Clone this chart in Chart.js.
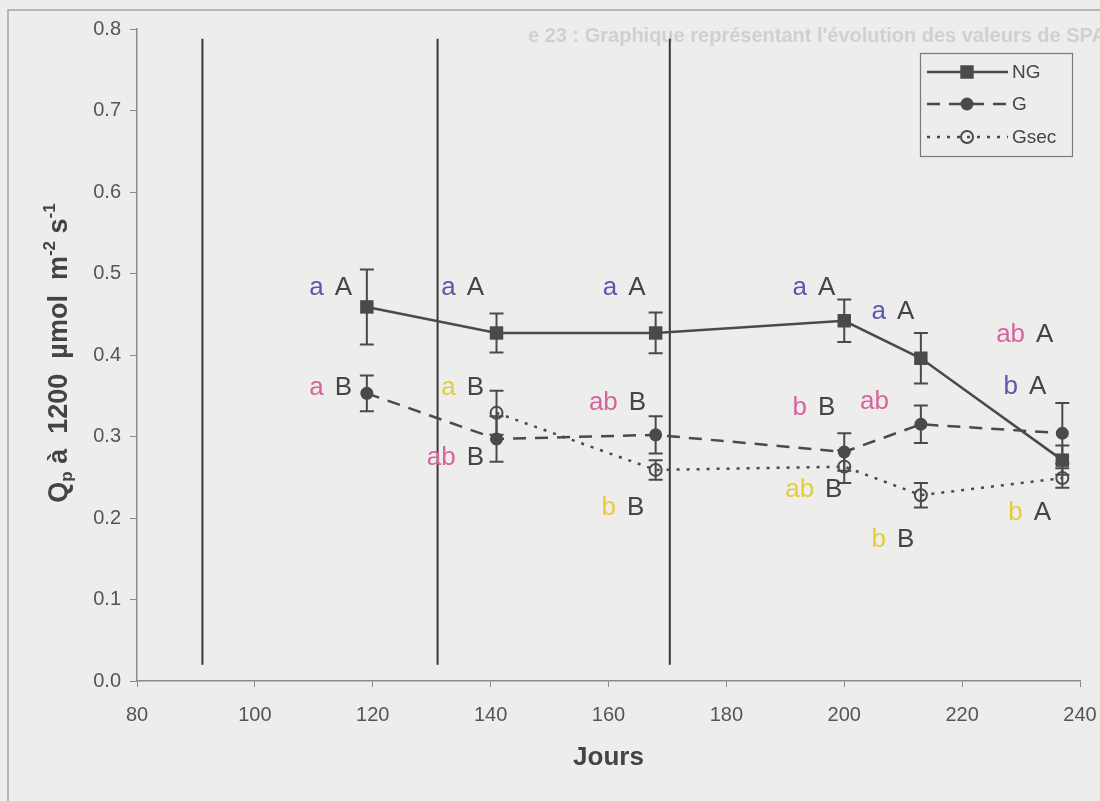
<!DOCTYPE html>
<html><head><meta charset="utf-8">
<script src="https://cdn.jsdelivr.net/npm/chart.js@4.4.1/dist/chart.umd.min.js"></script>
<style>html,body{margin:0;padding:0;background:#ededeb;overflow:hidden}</style>
</head><body>
<canvas id="c" width="1100" height="801"></canvas>
<script>
// ---- data ----
const daysAll  = [119, 141, 168, 200, 213, 237];
const daysGsec = [141, 168, 200, 213, 237];
const ngValues   = [0.459, 0.427, 0.427, 0.442, 0.396, 0.271];
const ngErrors   = [0.046, 0.024, 0.025, 0.026, 0.031, 0.018];
const gValues    = [0.353, 0.297, 0.302, 0.281, 0.315, 0.304];
const gErrors    = [0.022, 0.028, 0.023, 0.023, 0.023, 0.037];
const gsecValues = [0.329, 0.259, 0.263, 0.228, 0.249];
const gsecErrors = [0.027, 0.012, 0.020, 0.015, 0.012];
const seriesNames = ['NG', 'G', 'Gsec'];
const xTickValues = [80, 100, 120, 140, 160, 180, 200, 220, 240];
const yTickValues = [0, 0.1, 0.2, 0.3, 0.4, 0.5, 0.6, 0.7, 0.8];
const separatorDays = [91.1, 131.0, 170.4];
const separatorRange = [0.02, 0.788];
// significance letters: [day, value, lowercase, lowercase group, uppercase]
const letterDays   = [112.7, 112.7, 135.1, 135.1, 135.1, 162.5, 162.6, 162.3, 194.7, 208.1, 231.7, 230.5, 194.7, 208.6, 195.9, 208.1, 231.3];
const letterValues = [0.482, 0.360, 0.483, 0.360, 0.274, 0.483, 0.341, 0.212, 0.483, 0.453, 0.425, 0.361, 0.335, 0.342, 0.234, 0.173, 0.206];
const letterLower  = ['a','a','a','a','ab','a','ab','b','a','a','ab','b','b','ab','ab','b','b'];
const letterGroup  = ['NG','G','NG','Gsec','G','NG','G','Gsec','NG','NG','G','NG','G','G','Gsec','Gsec','Gsec'];
const letterUpper  = ['A','B','A','B','B','A','B','B','A','A','A','A','B','','B','B','A'];
const ghostTitle = "e 23 : Graphique représentant l'évolution des valeurs de SPAD en fonction du temps";

// ---- styles ----
const INK = '#4a4a4a';
const GROUP_COLORS = {NG: '#5858b0', G: '#d8649e', Gsec: '#e6cc3c'};
const FONT = '"Liberation Sans", Arial, sans-serif';

const pts = (xs, ys) => xs.map((x, i) => ({x, y: ys[i]}));

const datasets = [
  {label: seriesNames[0], data: pts(daysAll, ngValues), errors: ngErrors,
   borderColor: INK, backgroundColor: INK, borderWidth: 2.5, pointStyle: 'rect', pointRadius: 9.5,
   pointBorderWidth: 0, tension: 0},
  {label: seriesNames[1], data: pts(daysAll, gValues), errors: gErrors,
   borderColor: INK, backgroundColor: INK, borderWidth: 2.5, borderDash: [13, 9], pointStyle: 'circle',
   pointRadius: 6.5, pointBorderWidth: 0, tension: 0},
  {label: seriesNames[2], data: pts(daysGsec, gsecValues), errors: gsecErrors,
   borderColor: INK, backgroundColor: 'rgba(0,0,0,0)', borderWidth: 2.5, borderDash: [3, 7], pointStyle: 'circle',
   pointRadius: 6, pointBorderWidth: 2, pointBorderColor: INK, pointBackgroundColor: 'rgba(0,0,0,0)', tension: 0}
];
separatorDays.forEach(d => datasets.push({
  label: '', separator: true,
  data: [{x: d, y: separatorRange[1]}, {x: d, y: separatorRange[0]}],
  borderColor: '#383838', borderWidth: 2, pointRadius: 0
}));

const pagePlugin = {
  id: 'page',
  beforeDraw(chart) {
    const ctx = chart.ctx;
    ctx.save();
    ctx.fillStyle = '#ededeb';
    ctx.fillRect(0, 0, chart.width, chart.height);
    ctx.strokeStyle = '#a4a4a4';
    ctx.lineWidth = 1.5;
    ctx.beginPath();
    ctx.moveTo(8, 801); ctx.lineTo(8, 10); ctx.lineTo(1100, 10);
    ctx.stroke();
    // faint show-through text from the other side of the page
    ctx.fillStyle = '#d0d0ce';
    ctx.font = 'bold 20px ' + FONT;
    ctx.textBaseline = 'middle';
    ctx.textAlign = 'left';
    ctx.fillText(ghostTitle, 528, 36);
    ctx.restore();
  }
};

const errorBarPlugin = {
  id: 'errbars',
  beforeDatasetsDraw(chart) {
    const {ctx, scales: {x, y}} = chart;
    chart.data.datasets.forEach(ds => {
      if (!ds.errors) return;
      ctx.save();
      ctx.strokeStyle = INK; ctx.lineWidth = 2; ctx.setLineDash([]);
      ds.data.forEach((p, j) => {
        const e = ds.errors[j];
        const px = x.getPixelForValue(p.x);
        const t = y.getPixelForValue(p.y + e), b = y.getPixelForValue(p.y - e);
        ctx.beginPath();
        ctx.moveTo(px, t); ctx.lineTo(px, b);
        ctx.moveTo(px - 7, t); ctx.lineTo(px + 7, t);
        ctx.moveTo(px - 7, b); ctx.lineTo(px + 7, b);
        ctx.stroke();
      });
      ctx.restore();
    });
  }
};

function drawMarker(ctx, ds, cx, cy) {
  ctx.save();
  ctx.setLineDash([]);
  if (ds.pointStyle === 'rect') {
    const s = Math.SQRT1_2 * ds.pointRadius;
    ctx.fillStyle = INK; ctx.fillRect(cx - s, cy - s, 2 * s, 2 * s);
  } else {
    ctx.beginPath(); ctx.arc(cx, cy, ds.pointRadius, 0, Math.PI * 2);
    if (ds.pointBorderWidth) { ctx.lineWidth = ds.pointBorderWidth; ctx.strokeStyle = INK; ctx.stroke(); }
    else { ctx.fillStyle = INK; ctx.fill(); }
  }
  ctx.restore();
}

const overlayPlugin = {
  id: 'overlay',
  afterDraw(chart) {
    const {ctx, scales: {x, y}} = chart;
    ctx.save();
    // significance letters
    ctx.font = '26px ' + FONT;
    ctx.textBaseline = 'middle';
    letterDays.forEach((d, i) => {
      const px = x.getPixelForValue(d), py = y.getPixelForValue(letterValues[i]);
      ctx.fillStyle = GROUP_COLORS[letterGroup[i]];
      ctx.textAlign = 'right';
      ctx.fillText(letterLower[i], px - 6, py);
      if (letterUpper[i]) {
        ctx.fillStyle = '#454545';
        ctx.textAlign = 'left';
        ctx.fillText(letterUpper[i], px + 5, py);
      }
    });
    // legend
    ctx.strokeStyle = '#7a7a7a'; ctx.lineWidth = 1.2; ctx.setLineDash([]);
    ctx.strokeRect(920.5, 53.5, 152, 103);
    const rows = [72, 104, 137];
    ctx.font = '19px ' + FONT; ctx.textAlign = 'left';
    chart.data.datasets.slice(0, 3).forEach((ds, i) => {
      const ly = rows[i];
      ctx.save();
      ctx.strokeStyle = INK; ctx.lineWidth = 2.5;
      ctx.setLineDash(ds.borderDash || []);
      ctx.beginPath(); ctx.moveTo(927, ly); ctx.lineTo(1008, ly); ctx.stroke();
      ctx.restore();
      drawMarker(ctx, ds, 967, ly);
      ctx.fillStyle = '#454545';
      ctx.fillText(ds.label, 1012, ly + 1);
    });
    // x title
    ctx.fillStyle = '#444';
    ctx.font = 'bold 26px ' + FONT;
    ctx.textAlign = 'center';
    ctx.fillText('Jours', (x.left + x.right) / 2, 758);
    // y title with sub/superscripts
    const segs = [['Q', 'n'], ['p', 'sub'], [' à  1200  µmol  m', 'n'], ['-2', 'sup'], [' s', 'n'], ['-1', 'sup']];
    const fN = 'bold 27px ' + FONT, fS = 'bold 17px ' + FONT;
    let total = 0;
    segs.forEach(s => { ctx.font = s[1] === 'n' ? fN : fS; total += ctx.measureText(s[0]).width; });
    ctx.translate(57, 353);
    ctx.rotate(-Math.PI / 2);
    ctx.textAlign = 'left'; ctx.textBaseline = 'alphabetic';
    let cx = -total / 2;
    segs.forEach(s => {
      ctx.font = s[1] === 'n' ? fN : fS;
      const off = s[1] === 'sub' ? 15 : (s[1] === 'sup' ? -2 : 10);
      ctx.fillText(s[0], cx, off);
      cx += ctx.measureText(s[0]).width;
    });
    ctx.restore();
  }
};

new Chart(document.getElementById('c'), {
  type: 'line',
  data: {datasets},
  options: {
    responsive: false, animation: false, devicePixelRatio: 1,
    layout: {padding: {left: 0, right: 20, top: 29, bottom: 0}},
    plugins: {legend: {display: false}, tooltip: {enabled: false}},
    scales: {
      x: {
        type: 'linear', min: 80, max: 240,
        afterBuildTicks(s) { s.ticks = xTickValues.map(v => ({value: v})); },
        afterFit(s) { s.height = 120; s.paddingRight = 0; s.paddingLeft = 0; },
        grid: {drawOnChartArea: false, drawTicks: true, tickLength: 6, color: '#8a8a8a', lineWidth: 1},
        border: {display: true, color: '#8a8a8a', width: 1.5},
        ticks: {color: '#555', font: {size: 20, family: FONT}, padding: 16, maxRotation: 0, autoSkip: false,
                callback: v => String(v)}
      },
      y: {
        min: 0, max: 0.8,
        afterBuildTicks(s) { s.ticks = yTickValues.map(v => ({value: v})); },
        afterFit(s) { s.width = 137; s.paddingTop = 0; s.paddingBottom = 0; },
        grid: {drawOnChartArea: false, drawTicks: true, tickLength: 7, color: '#8a8a8a', lineWidth: 1},
        border: {display: true, color: '#8a8a8a', width: 1.5},
        ticks: {color: '#555', font: {size: 20, family: FONT}, padding: 9, autoSkip: false,
                callback: v => Number(v).toFixed(1)}
      }
    }
  },
  plugins: [pagePlugin, errorBarPlugin, overlayPlugin]
});
</script>
</body></html>
